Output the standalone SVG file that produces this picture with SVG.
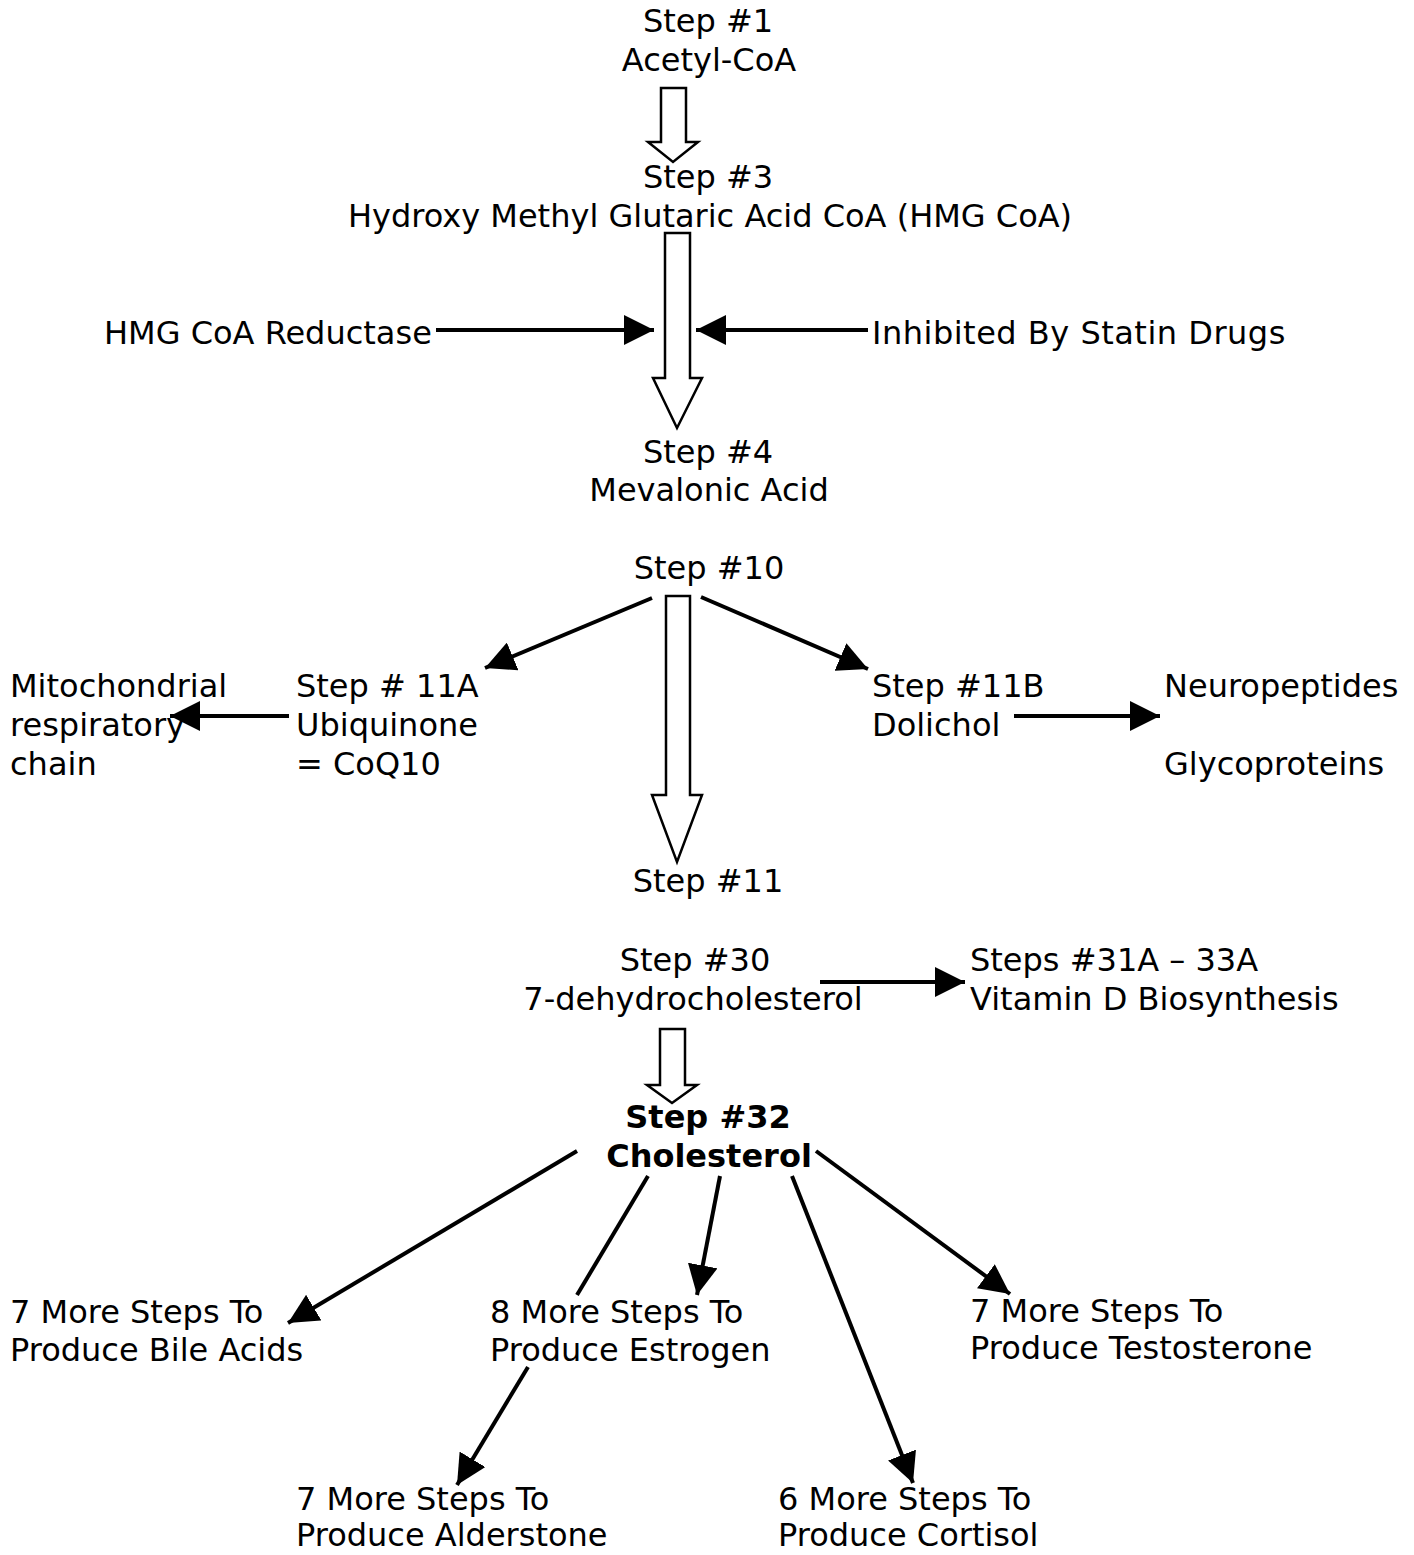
<svg xmlns="http://www.w3.org/2000/svg" width="1414" height="1555" viewBox="0 0 1414 1555">
<style>
text{font-family:"DejaVu Sans","Verdana",sans-serif;font-size:32px;fill:#000}
.c{text-anchor:middle}
.b{font-weight:bold}
.blk{fill:#fff;stroke:#000;stroke-width:2.5;stroke-linejoin:miter}
.ln{stroke:#000;stroke-width:4;fill:none}
.ar{marker-end:url(#ah)}
</style>
<defs>
<marker id="ah" markerUnits="userSpaceOnUse" markerWidth="30" markerHeight="30" viewBox="0 0 26 26" refX="26" refY="13" orient="auto">
<path d="M0,0 L26,13 L0,26 Z" fill="#000"/>
</marker>
</defs>
<rect width="1414" height="1555" fill="#fff"/>

<g id="connectors">
<polygon class="blk" points="661,88 686,88 686,142 698,142 673,162 648,142 661,142"/>
<polygon class="blk" points="665,233 690,233 690,378 702,378 677,428 653,378 665,378"/>
<polygon class="blk" points="666,596 690,596 690,795 702,795 677,862 652,795 666,795"/>
<polygon class="blk" points="660,1029 685,1029 685,1085 697,1085 672,1103 647,1085 660,1085"/>
<line class="ln ar" x1="436" y1="330" x2="654" y2="330"/>
<line class="ln ar" x1="868" y1="330" x2="696" y2="330"/>
<line class="ln ar" x1="652" y1="598" x2="485" y2="668"/>
<line class="ln ar" x1="701" y1="597" x2="868" y2="669"/>
<line class="ln ar" x1="289" y1="716" x2="170" y2="716"/>
<line class="ln ar" x1="1014" y1="716" x2="1160" y2="716"/>
<line class="ln ar" x1="820" y1="982" x2="965" y2="982"/>
<line class="ln ar" x1="577" y1="1151" x2="288" y2="1323"/>
<line class="ln" x1="648" y1="1176" x2="577" y2="1295"/>
<line class="ln ar" x1="720" y1="1176" x2="697" y2="1295"/>
<line class="ln ar" x1="792" y1="1176" x2="913" y2="1483"/>
<line class="ln ar" x1="816" y1="1151" x2="1010" y2="1294"/>
<line class="ln ar" x1="528" y1="1367" x2="457" y2="1485"/>
</g>

<g id="step1"><text class="c" x="708" y="32">Step #1</text><text class="c" x="709" y="71">Acetyl-CoA</text></g>
<g id="step3"><text class="c" x="708" y="188">Step #3</text><text class="c" x="710" y="227">Hydroxy Methyl Glutaric Acid CoA (HMG CoA)</text></g>
<g id="reductase"><text x="104" y="344">HMG CoA Reductase</text></g>
<g id="statin"><text x="872" y="344" letter-spacing="0.5">Inhibited By Statin Drugs</text></g>
<g id="step4"><text class="c" x="708" y="463">Step #4</text><text class="c" x="709" y="501">Mevalonic Acid</text></g>
<g id="step10"><text class="c" x="709" y="579">Step #10</text></g>
<g id="mito"><text x="10" y="697">Mitochondrial</text><text x="10" y="736">respiratory</text><text x="10" y="775">chain</text></g>
<g id="step11a"><text x="296" y="697">Step # 11A</text><text x="296" y="736">Ubiquinone</text><text x="296" y="775">= CoQ10</text></g>
<g id="step11b"><text x="872" y="697">Step #11B</text><text x="872" y="736">Dolichol</text></g>
<g id="neuro"><text x="1164" y="697">Neuropeptides</text><text x="1164" y="775">Glycoproteins</text></g>
<g id="step11"><text class="c" x="708" y="892">Step #11</text></g>
<g id="step30"><text class="c" x="695" y="971">Step #30</text><text class="c" x="693" y="1010">7-dehydrocholesterol</text></g>
<g id="vitd"><text x="970" y="971">Steps #31A – 33A</text><text x="970" y="1010">Vitamin D Biosynthesis</text></g>
<g id="step32"><text class="c b" x="708" y="1128">Step #32</text><text class="c b" x="709" y="1167">Cholesterol</text></g>
<g id="bile"><text x="10" y="1323">7 More Steps To</text><text x="10" y="1361">Produce Bile Acids</text></g>
<g id="estrogen"><text x="490" y="1323">8 More Steps To</text><text x="490" y="1361">Produce Estrogen</text></g>
<g id="testosterone"><text x="970" y="1322">7 More Steps To</text><text x="970" y="1359">Produce Testosterone</text></g>
<g id="alderstone"><text x="296" y="1510">7 More Steps To</text><text x="296" y="1546">Produce Alderstone</text></g>
<g id="cortisol"><text x="778" y="1510">6 More Steps To</text><text x="778" y="1546">Produce Cortisol</text></g>
</svg>
